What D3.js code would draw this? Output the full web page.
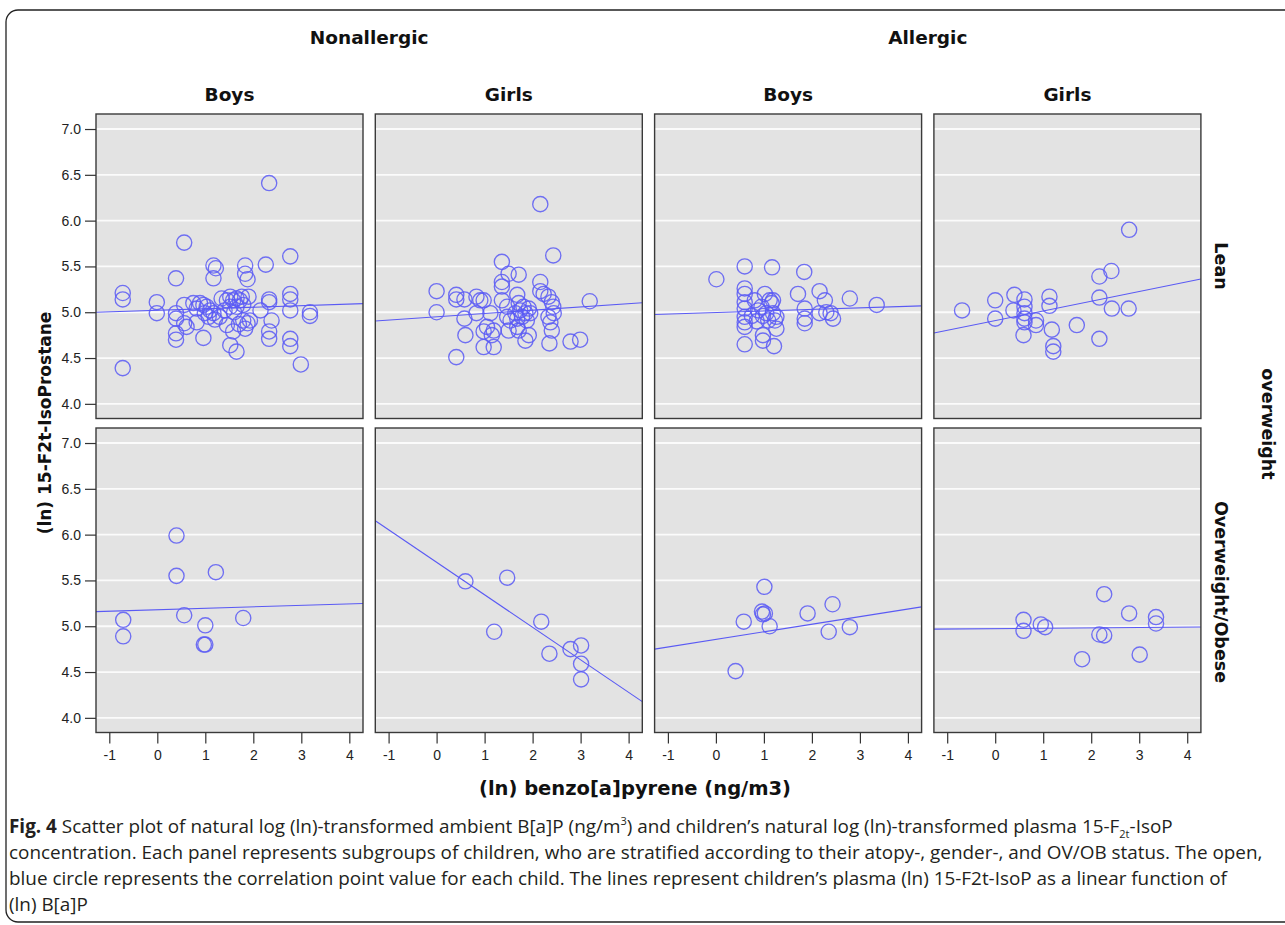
<!DOCTYPE html>
<html><head><meta charset="utf-8">
<script src="https://cdn.jsdelivr.net/npm/d3@7"></script>
<style>html,body{margin:0;padding:0;background:#fff;}svg{display:block;}</style>
</head><body>
<svg id="chart" width="1285" height="925"></svg>
<script>
// ---------- data ----------
const colGroups = ["Nonallergic", "Allergic"];
const genders = ["Boys", "Girls"];
const rowLabels = ["Lean", "Overweight/Obese"];
const rowTitle = "overweight";
const xTicks = [-1, 0, 1, 2, 3, 4];
const yTicks = [4.0, 4.5, 5.0, 5.5, 6.0, 6.5, 7.0];
const xTitle = "(ln) benzo[a]pyrene (ng/m3)";
const yTitle = "(ln) 15-F2t-IsoProstane";

const leanNonallergicBoys = [[-0.72,5.21],[-0.72,5.14],[-0.72,4.39],[2.33,6.41],[0.56,5.76],[-0.01,5.11],[-0.01,4.99],[0.39,5.37],[0.39,4.99],[0.39,4.93],[0.39,4.77],[0.39,4.70],[0.56,5.08],[0.56,4.88],[0.61,4.84],[0.75,5.10],[0.82,5.04],[0.89,5.10],[0.96,5.08],[0.99,4.99],[1.03,5.06],[0.96,4.72],[0.82,4.89],[1.17,4.99],[1.17,5.51],[1.22,5.48],[1.17,5.37],[1.34,5.15],[1.45,5.13],[1.52,5.17],[1.58,5.13],[1.65,5.15],[1.72,5.13],[1.76,5.17],[1.52,5.06],[1.65,5.06],[1.79,5.08],[1.90,5.17],[1.45,4.86],[1.52,4.64],[1.65,4.57],[1.58,4.79],[1.79,4.91],[1.83,4.82],[1.88,4.88],[1.93,4.91],[1.83,5.51],[1.83,5.42],[1.88,5.36],[2.26,5.52],[2.15,5.02],[2.33,5.14],[2.33,5.11],[2.38,4.91],[2.33,4.79],[2.33,4.71],[2.77,5.61],[2.77,5.20],[2.77,5.14],[2.77,5.02],[2.77,4.71],[2.77,4.63],[3.18,5.00],[3.18,4.96],[2.99,4.43],[1.10,5.02],[1.07,4.95],[1.20,4.92],[1.30,4.95],[1.40,5.02],[1.60,5.00],[1.70,4.87]];
const leanNonallergicGirls = [[2.16,6.18],[2.43,5.62],[1.36,5.55],[1.50,5.42],[1.71,5.41],[1.36,5.33],[1.36,5.28],[0.00,5.23],[0.00,5.00],[0.41,5.19],[0.41,5.14],[0.58,5.14],[0.58,4.93],[0.83,5.17],[0.83,4.99],[0.91,5.13],[0.98,5.13],[0.60,4.75],[0.41,4.51],[0.98,4.79],[0.98,4.62],[1.19,4.80],[1.19,4.62],[1.15,4.75],[1.05,4.84],[1.12,4.99],[1.36,5.13],[1.47,5.06],[1.47,4.95],[1.50,4.80],[1.54,4.91],[1.68,5.19],[1.71,5.10],[1.71,4.80],[1.74,5.02],[1.78,4.95],[1.81,5.06],[1.85,4.99],[1.88,4.91],[1.92,5.04],[1.95,4.99],[1.68,4.93],[1.68,4.84],[1.64,4.99],[1.85,4.69],[1.92,4.75],[2.16,5.33],[2.16,5.23],[2.23,5.20],[2.33,5.17],[2.40,5.11],[2.43,5.06],[2.44,4.99],[2.33,4.95],[2.37,4.89],[2.40,4.80],[2.35,4.66],[2.79,4.68],[2.99,4.70],[3.19,5.12]];
const leanAllergicBoys = [[0.01,5.36],[0.60,5.50],[1.17,5.49],[1.84,5.44],[0.60,5.26],[0.60,5.20],[0.60,5.11],[0.60,5.04],[0.60,4.95],[0.60,4.89],[0.60,4.84],[0.60,4.65],[0.81,5.13],[0.88,5.02],[0.95,5.06],[0.98,4.96],[1.02,5.20],[1.05,4.99],[1.09,4.91],[1.12,5.13],[1.16,5.10],[1.19,4.99],[1.23,4.91],[1.26,4.82],[0.98,4.75],[0.98,4.69],[1.21,4.63],[1.26,4.95],[1.19,5.13],[0.75,4.96],[0.85,4.90],[1.71,5.20],[1.85,5.04],[1.85,4.93],[1.85,4.88],[2.16,5.23],[2.27,5.13],[2.16,4.99],[2.30,5.00],[2.39,4.99],[2.44,4.93],[2.79,5.15],[3.35,5.08]];
const leanAllergicGirls = [[-0.69,5.02],[0.00,5.13],[0.00,4.93],[0.40,5.19],[0.38,5.02],[0.61,5.14],[0.61,5.06],[0.61,4.99],[0.61,4.93],[0.61,4.89],[0.85,4.91],[0.85,4.86],[0.59,4.75],[1.13,5.17],[1.13,5.07],[1.18,4.81],[1.21,4.63],[1.21,4.57],[1.70,4.86],[2.17,5.39],[2.42,5.45],[2.17,5.16],[2.43,5.04],[2.78,5.04],[2.17,4.71],[2.79,5.90]];
const obeseNonallergicBoys = [[-0.71,5.07],[-0.71,4.89],[0.40,5.99],[0.40,5.55],[1.22,5.59],[0.56,5.12],[1.00,5.01],[0.97,4.80],[1.00,4.80],[1.79,5.09]];
const obeseNonallergicGirls = [[0.60,5.49],[1.47,5.53],[1.20,4.94],[2.18,5.05],[2.35,4.70],[2.79,4.75],[3.01,4.79],[3.01,4.59],[3.01,4.42]];
const obeseAllergicBoys = [[1.01,5.43],[0.96,5.16],[0.98,5.13],[1.02,5.14],[1.12,5.00],[0.58,5.05],[0.41,4.51],[1.91,5.14],[2.43,5.24],[2.35,4.94],[2.79,4.99]];
const obeseAllergicGirls = [[0.59,5.07],[0.59,4.95],[0.95,5.02],[1.04,4.99],[2.27,5.35],[2.17,4.91],[2.27,4.90],[1.81,4.64],[2.79,5.14],[3.35,5.10],[3.35,5.03],[3.01,4.69]];

// fitted line (intercept at x=0, slope) for each panel
// order: row-major (Lean: NA boys, NA girls, A boys, A girls; then Overweight/Obese)
const fitIntercepts = [5.021, 4.950, 4.997, 4.908, 5.180, 5.698, 4.856, 4.974];
const fitSlopes     = [0.017, 0.036, 0.017, 0.106, 0.016, -0.355, 0.083, 0.004];

const panelData = [
  [leanNonallergicBoys, leanNonallergicGirls, leanAllergicBoys, leanAllergicGirls],
  [obeseNonallergicBoys, obeseNonallergicGirls, obeseAllergicBoys, obeseAllergicGirls]
];

// ---------- layout ----------
const svg = d3.select("#chart");
const panelLeft0 = 96, panelW = 267, panelStep = 279.3;
const panelTops = [114, 428], panelH = 304.5;
const xDomain = [-1.277, 4.285];
const yDomain = [3.84, 7.164];
const blue = "#5a5af4";
const boldFont = "'DejaVu Sans', sans-serif";
const tickFont = "'Liberation Sans', Arial, sans-serif";

// outer frame
svg.append("rect").attr("x", 6).attr("y", 10).attr("width", 1300).attr("height", 912)
  .attr("rx", 12).attr("fill", "none").attr("stroke", "#222").attr("stroke-width", 1.3);

const defs = svg.append("defs");

for (let r = 0; r < 2; r++) {
  for (let c = 0; c < 4; c++) {
    const left = panelLeft0 + c * panelStep;
    const top = panelTops[r];
    const x = d3.scaleLinear().domain(xDomain).range([left, left + panelW]);
    const y = d3.scaleLinear().domain(yDomain).range([top + panelH, top]);
    const id = `clip${r}${c}`;
    defs.append("clipPath").attr("id", id).append("rect")
      .attr("x", left).attr("y", top).attr("width", panelW).attr("height", panelH);

    const g = svg.append("g");
    g.append("rect").attr("x", left).attr("y", top).attr("width", panelW).attr("height", panelH)
      .attr("fill", "#e3e3e3");
    g.selectAll("line.grid").data(yTicks).join("line").attr("class", "grid")
      .attr("x1", left).attr("x2", left + panelW)
      .attr("y1", d => y(d)).attr("y2", d => y(d))
      .attr("stroke", "#fbfbfb").attr("stroke-width", 1.8);

    const pg = g.append("g").attr("clip-path", `url(#${id})`);
    const idx = r * 4 + c;
    const a = fitIntercepts[idx], b = fitSlopes[idx];
    const lineGen = d3.line().x(d => x(d)).y(d => y(a + b * d));
    pg.append("path").datum(xDomain).attr("d", lineGen)
      .attr("fill", "none").attr("stroke", blue).attr("stroke-width", 1.1);
    pg.selectAll("circle").data(panelData[r][c]).join("circle")
      .attr("cx", d => x(d[0])).attr("cy", d => y(d[1])).attr("r", 7.6)
      .attr("fill", "none").attr("stroke", blue).attr("stroke-opacity", 0.85).attr("stroke-width", 1.35);

    g.append("rect").attr("x", left).attr("y", top).attr("width", panelW).attr("height", panelH)
      .attr("fill", "none").attr("stroke", "#3a3a3a").attr("stroke-width", 1.4);

    if (c === 0) {
      const ax = svg.append("g").attr("transform", `translate(${left},0)`)
        .call(d3.axisLeft(y).tickValues(yTicks).tickFormat(d => d.toFixed(1)).tickSize(11).tickPadding(4));
      ax.select(".domain").remove();
      ax.selectAll(".tick line").attr("stroke", "#333").attr("stroke-width", 1.2);
      ax.selectAll(".tick text").attr("font-family", tickFont).attr("font-size", 14).attr("fill", "#222");
    }
    if (r === 1) {
      const ax = svg.append("g").attr("transform", `translate(0,${top + panelH})`)
        .call(d3.axisBottom(x).tickValues(xTicks).tickFormat(d => String(d)).tickSize(11).tickPadding(7));
      ax.select(".domain").remove();
      ax.selectAll(".tick line").attr("stroke", "#333").attr("stroke-width", 1.2);
      ax.selectAll(".tick text").attr("font-family", tickFont).attr("font-size", 14).attr("fill", "#222");
    }
    if (r === 0) {
      svg.append("text").attr("x", left + panelW / 2).attr("y", 101).attr("text-anchor", "middle")
        .attr("font-family", boldFont).attr("font-weight", "bold").attr("font-size", 18.5).attr("fill", "#111")
        .text(genders[c % 2]);
    }
  }
}
colGroups.forEach((gName, i) => {
  const left = panelLeft0 + i * 2 * panelStep;
  const right = left + panelStep + panelW;
  svg.append("text").attr("x", (left + right) / 2).attr("y", 44).attr("text-anchor", "middle")
    .attr("font-family", boldFont).attr("font-weight", "bold").attr("font-size", 18.5).attr("fill", "#111")
    .text(gName);
});
const rowCenters = [266, 592];
rowLabels.forEach((lab, r) => {
  svg.append("text").attr("transform", `translate(1215,${rowCenters[r]}) rotate(90)`).attr("text-anchor", "middle")
    .attr("font-family", boldFont).attr("font-weight", "bold").attr("font-size", 17.5).attr("fill", "#111")
    .text(lab);
});
svg.append("text").attr("transform", `translate(1262,424) rotate(90)`)
  .attr("text-anchor", "middle").attr("font-family", boldFont).attr("font-weight", "bold")
  .attr("font-size", 17.5).attr("fill", "#111").text(rowTitle);
svg.append("text").attr("x", 635).attr("y", 795).attr("text-anchor", "middle")
  .attr("font-family", boldFont).attr("font-weight", "bold").attr("font-size", 19.5).attr("fill", "#111")
  .text(xTitle);
svg.append("text").attr("transform", `translate(51,423) rotate(-90)`).attr("text-anchor", "middle")
  .attr("font-family", boldFont).attr("font-weight", "bold").attr("font-size", 17).attr("fill", "#111")
  .text(yTitle);

// caption
const cap = svg.append("g").attr("font-family", "'Open Sans', sans-serif").attr("font-size", 18.9).attr("fill", "#231f20");
const l1 = cap.append("text").attr("x", 9).attr("y", 833);
l1.append("tspan").attr("font-weight", "bold").text("Fig. 4");
l1.append("tspan").text(" Scatter plot of natural log (ln)-transformed ambient B[a]P (ng/m");
l1.append("tspan").attr("font-size", 11).attr("dy", -8).text("3");
l1.append("tspan").attr("dy", 8).text(") and children’s natural log (ln)-transformed plasma 15-F");
l1.append("tspan").attr("font-size", 11).attr("dy", 5).text("2t");
l1.append("tspan").attr("dy", -5).text("-IsoP");
cap.append("text").attr("x", 9).attr("y", 859)
  .text("concentration. Each panel represents subgroups of children, who are stratified according to their atopy-, gender-, and OV/OB status. The open,");
cap.append("text").attr("x", 9).attr("y", 885)
  .text("blue circle represents the correlation point value for each child. The lines represent children’s plasma (ln) 15-F2t-IsoP as a linear function of");
cap.append("text").attr("x", 9).attr("y", 911).text("(ln) B[a]P");
</script>
</body></html>
